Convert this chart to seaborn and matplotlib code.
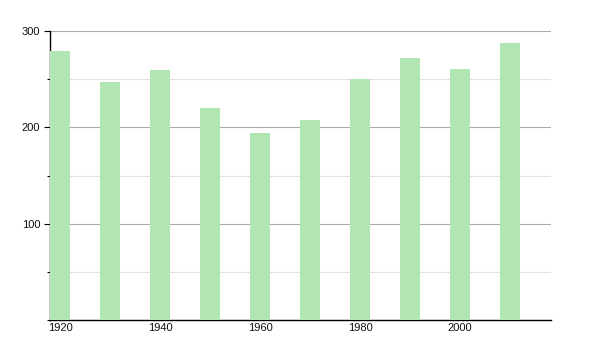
import matplotlib
matplotlib.use("Agg")
import matplotlib.pyplot as plt
import seaborn as sns
import pandas as pd
from matplotlib.ticker import MultipleLocator

years = [1920, 1930, 1940, 1950, 1960, 1970, 1980, 1990, 2000, 2010]
values = [279, 247, 260, 220, 194, 208, 250, 272, 261, 288]
x_ticks = [1920, 1940, 1960, 1980, 2000]
y_ticks = [100, 200, 300]

sns.set_theme(style="white")
plt.rcParams['font.family'] = ['Liberation Sans', 'DejaVu Sans']

df = pd.DataFrame({"year": years, "value": values})

fig = plt.figure(figsize=(6, 3.5), dpi=100)
ax = fig.add_axes([50/600, 1-320/350, 501/600, 289/350])

sns.barplot(data=df, x="year", y="value", native_scale=True, width=0.4,
            color="#b1e5b1", saturation=1, linewidth=0, ax=ax, zorder=3)

ax.set_xlim(1918, 2018.2)
ax.set_ylim(0, 300)
ax.set_xticks(x_ticks)
ax.set_xticklabels([str(t) for t in x_ticks])
ax.set_yticks(y_ticks)
ax.set_yticklabels([str(t) for t in y_ticks])
ax.yaxis.set_minor_locator(MultipleLocator(50))

ax.grid(axis="y", which="major", color="#aaaaaa", linewidth=0.8, zorder=0)
ax.grid(axis="y", which="minor", color="#e2e2e2", linewidth=0.8, zorder=0)
ax.grid(axis="x", visible=False)
ax.set_axisbelow(True)

for s in ["top", "right"]:
    ax.spines[s].set_visible(False)
for s in ["left", "bottom"]:
    ax.spines[s].set_color("black")
    ax.spines[s].set_linewidth(1.0)

ax.tick_params(axis="y", which="major", left=True, length=4, width=0.8,
               color="black", labelsize=8, pad=3, labelcolor="#111111")
ax.tick_params(axis="y", which="minor", left=True, length=2, width=0.8, color="black")
ax.tick_params(axis="x", which="both", bottom=False, length=0, labelsize=8, pad=2, labelcolor="#111111")
ax.set_xlabel("")
ax.set_ylabel("")

fig.savefig("out.png", dpi=100, facecolor="white")
